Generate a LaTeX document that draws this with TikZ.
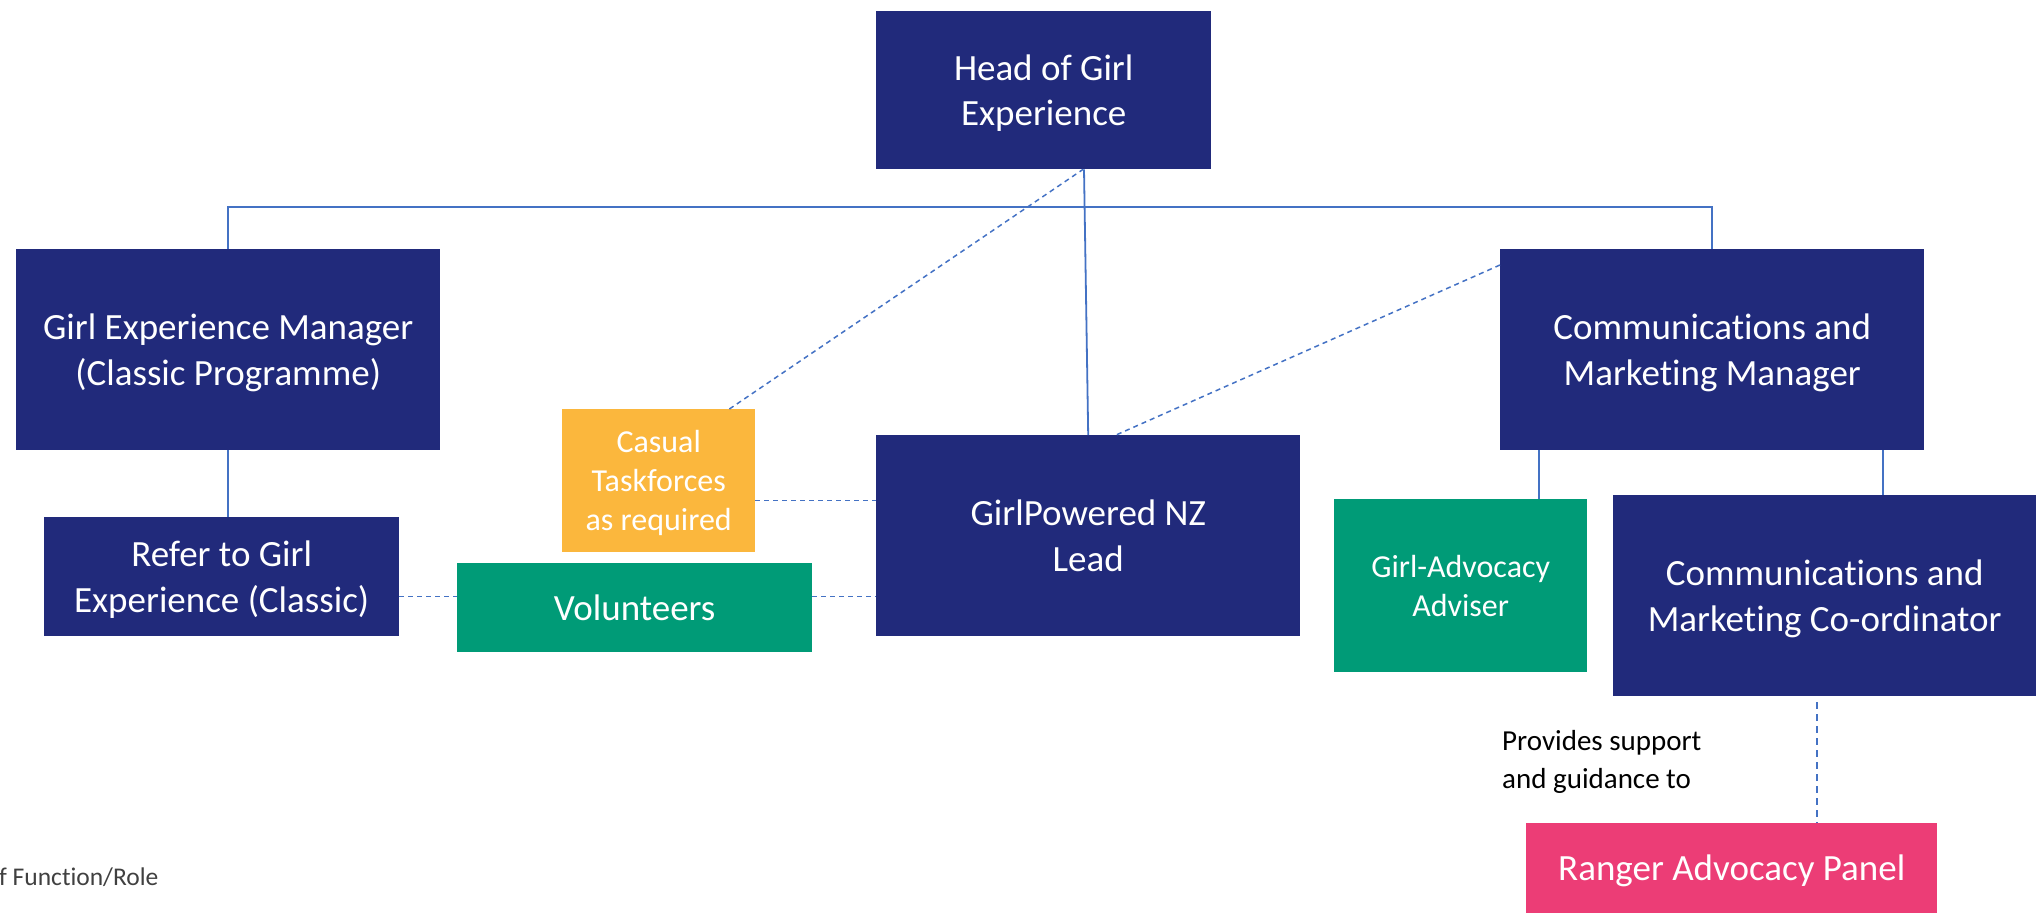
\documentclass[tikz,border=0pt]{standalone}
\usepackage{fontspec}
\setmainfont{Carlito}[Ligatures=NoCommon]
\definecolor{navy}{HTML}{212A7B}
\definecolor{teal}{HTML}{009B77}
\definecolor{amber}{HTML}{FBB73D}
\definecolor{rose}{HTML}{EC3D76}
\definecolor{link}{HTML}{4472C4}
\definecolor{greytext}{HTML}{404040}
\newcommand\bigstack[1]{\begin{tabular}{@{}c@{}}\rule{0pt}{38.85pt}#1\end{tabular}}
\newcommand\smallstack[1]{\begin{tabular}{@{}c@{}}\rule{0pt}{33.6pt}#1\end{tabular}}
\begin{document}
\begin{tikzpicture}[x=1pt,y=-1pt,
  box/.style={anchor=north west,inner sep=0pt,text=white,
    font=\fontsize{37}{45.5}\selectfont},
  smallbox/.style={anchor=north west,inner sep=0pt,text=white,
    font=\fontsize{32}{39}\selectfont},
  solidlink/.style={draw=link,line width=1.8pt},
  dashlink/.style={draw=link,line width=1.5pt,dash pattern=on 5pt off 4pt},
  longdash/.style={draw=link,line width=2pt,dash pattern=on 7pt off 5pt}]
\useasboundingbox (0,0) rectangle (2044,918);
\node[box,fill=navy,minimum width=335pt,minimum height=158pt] (head) at (876,11) {\bigstack{Head of Girl\\Experience}};
\node[box,fill=navy,minimum width=424pt,minimum height=201pt] (gem) at (16,249) {\bigstack{Girl Experience Manager\\(Classic Programme)}};
\node[box,fill=navy,minimum width=424pt,minimum height=201pt] (cm) at (1500,249) {\bigstack{Communications and\\Marketing Manager}};
\node[smallbox,fill=amber,minimum width=193pt,minimum height=143pt] (casual) at (562,409) {\smallstack{Casual\\Taskforces\\as required}};
\node[box,fill=navy,minimum width=424pt,minimum height=201pt] (gp) at (876,435) {\bigstack{GirlPowered NZ\\Lead}};
\node[box,fill=navy,minimum width=355pt,minimum height=119pt] (refer) at (44,517) {\bigstack{Refer to Girl\\Experience (Classic)}};
\node[box,fill=teal,minimum width=355pt,minimum height=89pt] (vol) at (457,563) {\bigstack{Volunteers}};
\node[smallbox,fill=teal,minimum width=253pt,minimum height=173pt] (ga) at (1334,499) {\smallstack{Girl-Advocacy\\Adviser}};
\node[box,fill=navy,minimum width=423pt,minimum height=201pt] (cmc) at (1613,495) {\bigstack{Communications and\\Marketing Co-ordinator}};
\node[box,fill=rose,minimum width=411pt,minimum height=90pt] (ranger) at (1526,823) {\bigstack{Ranger Advocacy Panel}};
\node[anchor=base west,inner sep=0pt,align=left,font=\fontsize{29}{38}\selectfont] (note) at (1502,788) {Provides support\\and guidance to};
\node[anchor=base west,inner sep=0pt,text=greytext,font=\fontsize{25.5}{30}\selectfont] (legend) at (-1,885) {f Function/Role};
% solid hierarchy
\coordinate (bar) at (0,207);
\draw[solidlink] (gem.north) -- (gem.north |- bar) -- (cm.north |- bar) -- (cm.north);
\draw[solidlink] ([xshift=208pt]head.south west) -- (gp.north);
\draw[solidlink] (gem.south) -- (gem.south |- refer.north);
\draw[solidlink] ([xshift=39pt]cm.south west) -- ([xshift=39pt]cm.south west |- ga.north);
\draw[solidlink] ([xshift=383pt]cm.south west) -- ([xshift=383pt]cm.south west |- cmc.north);
% dashed links
\draw[dashlink] ([xshift=-26pt]casual.north east) -- ([xshift=207pt]head.south west);
\draw[dashlink] ([yshift=-16pt]cm.north west) -- ([xshift=240pt]gp.north west);
\draw[dashlink] ([yshift=-20pt]casual.east) -- ([yshift=-20pt]casual.east -| gp.west);
\draw[dashlink] ([yshift=-20pt]refer.east) -- ([yshift=-20pt]refer.east -| vol.west);
\draw[dashlink] ([yshift=-20pt]refer.east -| vol.east) -- ([yshift=-20pt]refer.east -| gp.west);
\draw[longdash] ([xshift=-8pt,yshift=-6pt]cmc.south) -- ([xshift=-8pt]cmc.south |- ranger.north);
\end{tikzpicture}
\end{document}
